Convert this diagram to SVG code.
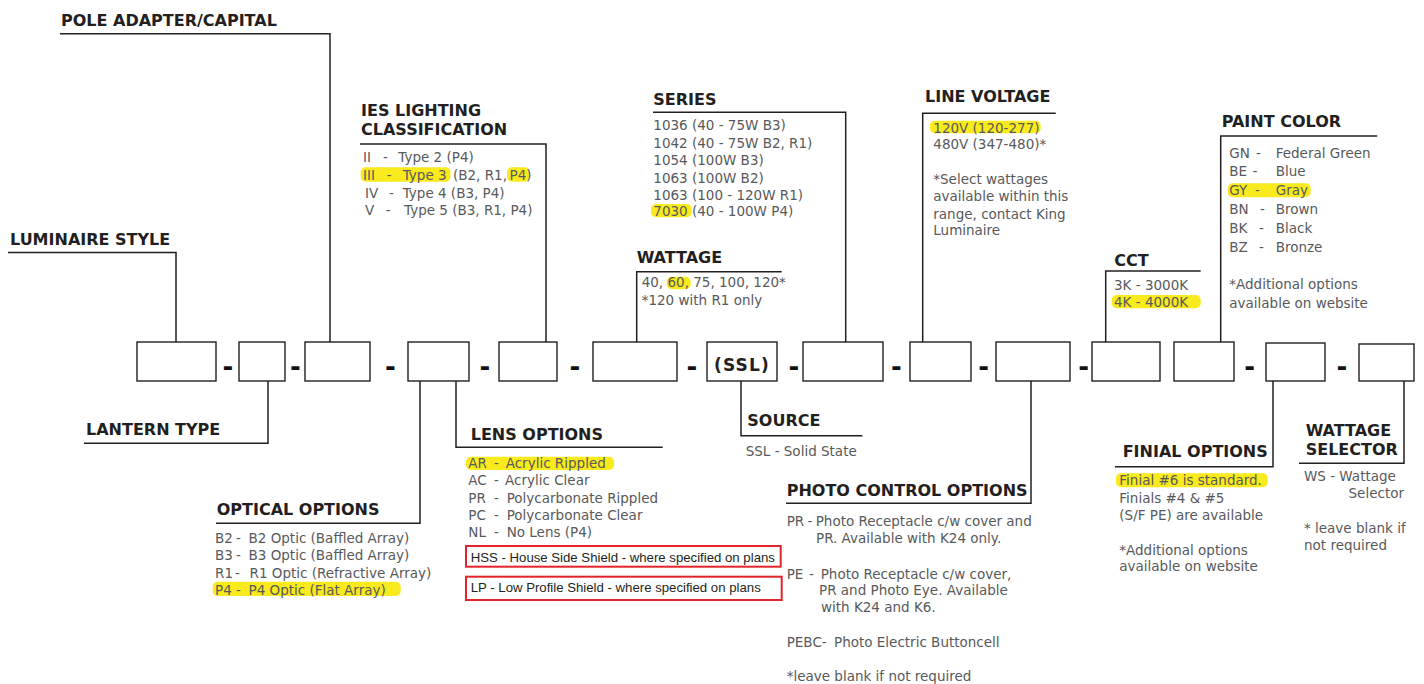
<svg xmlns="http://www.w3.org/2000/svg" width="1424" height="684" viewBox="0 0 1424 684">
<style>
.t{font-family:"DejaVu Sans","Liberation Sans",sans-serif;font-weight:bold;font-size:16px;fill:#231f20}
.b{font-family:"DejaVu Sans","Liberation Sans",sans-serif;font-size:13.5px;fill:#58595b}
.r{font-family:"Liberation Sans",Arial,sans-serif;font-size:13.2px;fill:#231f20}
.sep{font-family:"DejaVu Sans",sans-serif;font-weight:bold;font-size:26px;fill:#111;text-anchor:middle}
.box{fill:#fff;stroke:#231f20;stroke-width:1.4}
.hl{fill:#f8ea1c}
.red{fill:none;stroke:#e3242b;stroke-width:2}
#connectors path{fill:none;stroke:#231f20;stroke-width:1.5}
</style>
<rect width="1424" height="684" fill="#fff"/>
<g id="connectors">
<path d="M8 252.5H176V342"/>
<path d="M60 33.7H330V342"/>
<path d="M360 144H546V342"/>
<path d="M781.7 271.7H636.7V342"/>
<path d="M653 112.3H845.7V342"/>
<path d="M1055.7 113.3H922.7V342"/>
<path d="M1200.7 271H1105.7V342"/>
<path d="M1377.3 136H1220.7V342"/>
<path d="M268 381V443.3H84"/>
<path d="M420 381V523.3H216"/>
<path d="M456 381V447.3H662.7"/>
<path d="M741 381V435.7H862.3"/>
<path d="M1031 381V503.3H786"/>
<path d="M1273 381V466.7H1115"/>
<path d="M1404 381V463.3H1299"/>
</g>
<g id="code-boxes">
<g id="box-luminaire"><rect class="box" x="137" y="342" width="79" height="39"/></g>
<text class="sep" x="228" y="375.5">-</text>
<g id="box-lantern"><rect class="box" x="239" y="342" width="46" height="39"/></g>
<text class="sep" x="295.3" y="375.5">-</text>
<g id="box-pole"><rect class="box" x="305" y="342" width="65" height="39"/></g>
<text class="sep" x="390.3" y="375.5">-</text>
<g id="box-optical-lens"><rect class="box" x="408" y="342" width="61" height="39"/></g>
<text class="sep" x="485" y="375.5">-</text>
<g id="box-ies"><rect class="box" x="499" y="342" width="58" height="39"/></g>
<text class="sep" x="575" y="375.5">-</text>
<g id="box-wattage"><rect class="box" x="593" y="342" width="84" height="39"/></g>
<text class="sep" x="692" y="375.5">-</text>
<g id="box-source"><rect class="box" x="707" y="342" width="70" height="39"/>
<text x="742" y="371" text-anchor="middle" style="font-family:'DejaVu Sans',sans-serif;font-weight:bold;font-size:17px;letter-spacing:1.2px;fill:#231f20">(SSL)</text></g>
<text class="sep" x="794" y="375.5">-</text>
<g id="box-series"><rect class="box" x="803" y="342" width="80" height="39"/></g>
<text class="sep" x="896.4" y="375.5">-</text>
<g id="box-voltage"><rect class="box" x="910" y="342" width="61" height="39"/></g>
<text class="sep" x="983.6" y="375.5">-</text>
<g id="box-photo"><rect class="box" x="996" y="342" width="74" height="39"/></g>
<text class="sep" x="1083.6" y="375.5">-</text>
<g id="box-cct"><rect class="box" x="1092" y="342" width="68" height="39"/></g>
<g id="box-paint"><rect class="box" x="1174" y="342" width="60" height="39"/></g>
<text class="sep" x="1249.6" y="375.5">-</text>
<g id="box-finial"><rect class="box" x="1266" y="343" width="59" height="38"/></g>
<text class="sep" x="1342" y="375.5">-</text>
<g id="box-wattage-selector"><rect class="box" x="1359" y="344" width="55" height="37"/></g>
</g>
<g id="luminaire-style"><text class="t" x="10" y="245">LUMINAIRE STYLE</text></g>
<g id="pole-adapter"><text class="t" x="61" y="26">POLE ADAPTER/CAPITAL</text></g>
<g id="ies-classification">
<text class="t" x="361" y="115.7">IES LIGHTING</text>
<text class="t" x="361" y="135">CLASSIFICATION</text>
<rect class="hl" x="360.7" y="167.3" width="89.8" height="14.4" rx="5"/>
<rect class="hl" x="507" y="167.3" width="22.5" height="14.4" rx="5"/>
<text class="b" y="161.5"><tspan x="363">II</tspan><tspan x="383">-</tspan><tspan x="398.3">Type 2 (P4)</tspan></text>
<text class="b" y="179.5"><tspan x="363">III</tspan><tspan x="386.7">-</tspan><tspan x="402.7">Type 3</tspan><tspan x="453">(B2, R1,</tspan><tspan x="509.5">P4</tspan><tspan>)</tspan></text>
<text class="b" y="198"><tspan x="365">IV</tspan><tspan x="389">-</tspan><tspan x="402.7">Type 4 (B3, P4)</tspan></text>
<text class="b" y="215"><tspan x="365">V</tspan><tspan x="385.7">-</tspan><tspan x="404">Type 5 (B3, R1, P4)</tspan></text>
</g>
<g id="series">
<text class="t" x="653.3" y="105">SERIES</text>
<rect class="hl" x="651" y="204" width="40.7" height="13.3" rx="5"/>
<text class="b" x="653.3" y="130">1036 (40 - 75W B3)</text>
<text class="b" x="653.3" y="147.5">1042 (40 - 75W B2, R1)</text>
<text class="b" x="653.3" y="165">1054 (100W B3)</text>
<text class="b" x="653.3" y="182.5">1063 (100W B2)</text>
<text class="b" x="653.3" y="199.5">1063 (100 - 120W R1)</text>
<text class="b" x="653.3" y="216">7030 (40 - 100W P4)</text>
</g>
<g id="wattage">
<text class="t" x="636.7" y="262.7">WATTAGE</text>
<rect class="hl" x="666.7" y="276.7" width="24" height="12.6" rx="5"/>
<text class="b" x="641.7" y="287">40, 60, 75, 100, 120*</text>
<text class="b" x="641.7" y="305">*120 with R1 only</text>
</g>
<g id="line-voltage">
<text class="t" x="925" y="101.7">LINE VOLTAGE</text>
<rect class="hl" x="930" y="120.7" width="110.7" height="12.6" rx="5"/>
<text class="b" x="933.3" y="132.5">120V (120-277)</text>
<text class="b" x="933.3" y="148.5">480V (347-480)*</text>
<text class="b" x="933.3" y="184">*Select wattages</text>
<text class="b" x="933.3" y="201">available within this</text>
<text class="b" x="933.3" y="218.5">range, contact King</text>
<text class="b" x="933.3" y="235">Luminaire</text>
</g>
<g id="cct">
<text class="t" x="1114.3" y="265.7">CCT</text>
<rect class="hl" x="1111.7" y="295" width="89" height="13.3" rx="5"/>
<text class="b" x="1114" y="289.5">3K - 3000K</text>
<text class="b" x="1114" y="307">4K - 4000K</text>
</g>
<g id="paint-color">
<text class="t" x="1221.7" y="126.7">PAINT COLOR</text>
<rect class="hl" x="1227.7" y="183.3" width="83" height="14" rx="5"/>
<text class="b" y="157.5"><tspan x="1229.3">GN</tspan><tspan x="1256">-</tspan><tspan x="1275.7">Federal Green</tspan></text>
<text class="b" y="176"><tspan x="1229.3">BE</tspan><tspan x="1252.5">-</tspan><tspan x="1275.7">Blue</tspan></text>
<text class="b" y="195"><tspan x="1229.3">GY</tspan><tspan x="1255">-</tspan><tspan x="1275.7">Gray</tspan></text>
<text class="b" y="214"><tspan x="1229.3">BN</tspan><tspan x="1260">-</tspan><tspan x="1275.7">Brown</tspan></text>
<text class="b" y="233"><tspan x="1229.3">BK</tspan><tspan x="1259">-</tspan><tspan x="1275.7">Black</tspan></text>
<text class="b" y="252"><tspan x="1229.3">BZ</tspan><tspan x="1259">-</tspan><tspan x="1275.7">Bronze</tspan></text>
<text class="b" x="1229.3" y="289">*Additional options</text>
<text class="b" x="1229.3" y="308">available on website</text>
</g>
<g id="lantern-type"><text class="t" x="86" y="435">LANTERN TYPE</text></g>
<g id="optical-options">
<text class="t" x="216.7" y="515">OPTICAL OPTIONS</text>
<rect class="hl" x="212.7" y="581.7" width="188" height="14.3" rx="5"/>
<text class="b" y="542.5"><tspan x="215">B2</tspan><tspan x="236">-</tspan><tspan x="248.5">B2 Optic (Baffled Array)</tspan></text>
<text class="b" y="560"><tspan x="215">B3</tspan><tspan x="236">-</tspan><tspan x="248.5">B3 Optic (Baffled Array)</tspan></text>
<text class="b" y="577.5"><tspan x="215">R1</tspan><tspan x="235">-</tspan><tspan x="249.5">R1 Optic (Refractive Array)</tspan></text>
<text class="b" y="594.5"><tspan x="215">P4</tspan><tspan x="236">-</tspan><tspan x="248.5">P4 Optic (Flat Array)</tspan></text>
</g>
<g id="lens-options">
<text class="t" x="470.7" y="440">LENS OPTIONS</text>
<rect class="hl" x="466" y="456.7" width="148" height="13.3" rx="5"/>
<text class="b" y="467.5"><tspan x="468.3">AR</tspan><tspan x="494">-</tspan><tspan x="505.7">Acrylic Rippled</tspan></text>
<text class="b" y="485"><tspan x="468.3">AC</tspan><tspan x="494">-</tspan><tspan x="505">Acrylic Clear</tspan></text>
<text class="b" y="502.5"><tspan x="468.3">PR</tspan><tspan x="494">-</tspan><tspan x="506.7">Polycarbonate Rippled</tspan></text>
<text class="b" y="519.5"><tspan x="468.3">PC</tspan><tspan x="494">-</tspan><tspan x="506.7">Polycarbonate Clear</tspan></text>
<text class="b" y="537"><tspan x="468.3">NL</tspan><tspan x="494">-</tspan><tspan x="506.7">No Lens (P4)</tspan></text>
<rect class="red" x="466" y="546" width="314.7" height="20.7"/>
<text class="r" x="470.7" y="561.5">HSS - House Side Shield - where specified on plans</text>
<rect class="red" x="466" y="576.7" width="315.7" height="23.3"/>
<text class="r" x="470.7" y="591.5">LP - Low Profile Shield - where specified on plans</text>
</g>
<g id="source">
<text class="t" x="747.3" y="426">SOURCE</text>
<text class="b" x="745.7" y="456">SSL - Solid State</text>
</g>
<g id="photo-control">
<text class="t" x="786.7" y="495.7">PHOTO CONTROL OPTIONS</text>
<text class="b" y="526"><tspan x="786.7">PR</tspan><tspan x="807.5">-</tspan><tspan x="815.7">Photo Receptacle c/w cover and</tspan></text>
<text class="b" x="816" y="543">PR. Available with K24 only.</text>
<text class="b" y="578.5"><tspan x="786.7">PE</tspan><tspan x="809">-</tspan><tspan x="820.7">Photo Receptacle c/w cover,</tspan></text>
<text class="b" x="819" y="595">PR and Photo Eye. Available</text>
<text class="b" x="821" y="612">with K24 and K6.</text>
<text class="b" y="647"><tspan x="786.7">PEBC-</tspan><tspan x="834">Photo Electric Buttoncell</tspan></text>
<text class="b" x="786.7" y="681">*leave blank if not required</text>
</g>
<g id="finial-options">
<text class="t" x="1122.7" y="456.7">FINIAL OPTIONS</text>
<rect class="hl" x="1116" y="473.3" width="151.7" height="14" rx="5"/>
<text class="b" x="1119.3" y="485">Finial #6 is standard.</text>
<text class="b" x="1119.3" y="502.5">Finials #4 &amp; #5</text>
<text class="b" x="1119.3" y="520">(S/F PE) are available</text>
<text class="b" x="1119.3" y="554.5">*Additional options</text>
<text class="b" x="1119.3" y="571">available on website</text>
</g>
<g id="wattage-selector">
<text class="t" x="1305.7" y="435.7">WATTAGE</text>
<text class="t" x="1305.7" y="455">SELECTOR</text>
<text class="b" x="1304" y="481">WS - Wattage</text>
<text class="b" x="1404" y="497.5" text-anchor="end">Selector</text>
<text class="b" x="1304" y="532.5">* leave blank if</text>
<text class="b" x="1304" y="549.5">not required</text>
</g>
</svg>
